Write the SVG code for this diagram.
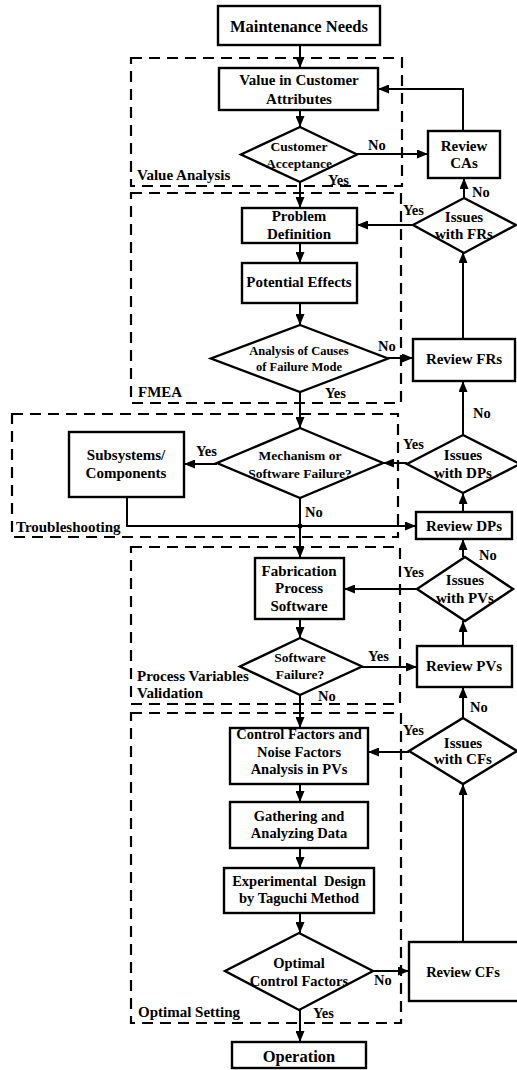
<svg xmlns="http://www.w3.org/2000/svg" width="517" height="1070" viewBox="0 0 517 1070">
<style>
text{font-family:"Liberation Serif","Times New Roman",serif;font-weight:bold;fill:#000;text-anchor:middle;dominant-baseline:central}
.n{fill:#fff;stroke:#000;stroke-width:2.4}
.g{fill:none;stroke:#000;stroke-width:2.2;stroke-dasharray:11 7}
.c{fill:none;stroke:#000;stroke-width:2;marker-end:url(#ah)}
.p{fill:none;stroke:#000;stroke-width:2}
.t15{font-size:15px}
.t14{font-size:14.5px}
.t13{font-size:13.5px}
.t12{font-size:12.5px}
.big{font-size:16.5px}
.lb{font-size:14.5px;text-anchor:start}
.gl{font-size:15px;text-anchor:start}
</style>
<defs>
<marker id="ah" markerUnits="userSpaceOnUse" markerWidth="11" markerHeight="9" refX="11" refY="4.5" orient="auto">
<path d="M0,0 L11,4.5 L0,9 z" fill="#000"/>
</marker>
</defs>
<rect width="517" height="1070" fill="#fff"/>

<g id="groups">
<g id="g-value-analysis"><rect class="g" x="131" y="58" width="271" height="128"/><text class="gl" x="137" y="175">Value Analysis</text></g>
<g id="g-fmea"><rect class="g" x="131" y="193" width="270" height="210"/><text class="gl" x="138" y="392">FMEA</text></g>
<g id="g-troubleshooting"><rect class="g" x="12" y="414" width="386" height="123"/><text class="gl" x="16" y="527">Troubleshooting</text></g>
<g id="g-pvv"><rect class="g" x="131" y="547" width="269" height="157"/><text class="gl" x="137" y="676">Process Variables</text><text class="gl" x="137" y="693">Validation</text></g>
<g id="g-optimal"><rect class="g" x="131" y="713" width="270" height="310"/><text class="gl" x="138" y="1012">Optimal Setting</text></g>
</g>

<g id="connectors">
<path class="c" d="M300,45 V68"/>
<path class="c" d="M300,110 V127"/>
<path class="c" d="M357,154 H428"/>
<path class="c" d="M463,131 V89 H378"/>
<path class="c" d="M300,182 V208"/>
<path class="c" d="M464,198 V178"/>
<path class="c" d="M413,225 H357"/>
<path class="c" d="M300,243 V263"/>
<path class="c" d="M300,303 V325"/>
<path class="c" d="M388,358 H413"/>
<path class="c" d="M463,339 V252"/>
<path class="c" d="M300,392 V428"/>
<path class="c" d="M463,435 V381"/>
<path class="c" d="M407,463 H383"/>
<path class="c" d="M217,464 H184"/>
<path class="c" d="M127,497 V526 H416"/>
<circle cx="300" cy="526" r="2.5" fill="#000"/>
<path class="c" d="M300,498 V558"/>
<path class="c" d="M463,512 V493"/>
<path class="c" d="M463,557 V539"/>
<path class="c" d="M417,589 H344"/>
<path class="c" d="M300,619 V638"/>
<path class="c" d="M362,667 H417"/>
<path class="c" d="M463,646 V621"/>
<path class="c" d="M300,695 V728"/>
<path class="c" d="M463,718 V687"/>
<path class="c" d="M409,752 H368"/>
<path class="c" d="M300,784 V802"/>
<path class="c" d="M300,848 V868"/>
<path class="c" d="M300,913 V933"/>
<path class="c" d="M373,971 H409"/>
<path class="c" d="M463,942 V784"/>
<path class="c" d="M300,1010 V1042"/>
<g id="connector-labels">
<text class="lb" x="368" y="145">No</text>
<text class="lb" x="328" y="180">Yes</text>
<text class="lb" x="472" y="192">No</text>
<text class="lb" x="403" y="210">Yes</text>
<text class="lb" x="378" y="346">No</text>
<text class="lb" x="325" y="393">Yes</text>
<text class="lb" x="473" y="413">No</text>
<text class="lb" x="403" y="444">Yes</text>
<text class="lb" x="196" y="451">Yes</text>
<text class="lb" x="305" y="512">No</text>
<text class="lb" x="479" y="555">No</text>
<text class="lb" x="403" y="572">Yes</text>
<text class="lb" x="368" y="656">Yes</text>
<text class="lb" x="318" y="696">No</text>
<text class="lb" x="470" y="707">No</text>
<text class="lb" x="403" y="730">Yes</text>
<text class="lb" x="374" y="980">No</text>
<text class="lb" x="313" y="1013">Yes</text>
</g>
</g>

<g id="maintenance-needs"><rect class="n" x="218" y="6" width="162" height="39"/><text class="big" x="299" y="26">Maintenance Needs</text></g>
<g id="value-ca"><rect class="n" x="219" y="68" width="159" height="42"/><text class="t15" x="299" y="80">Value in Customer</text><text class="t15" x="299" y="99">Attributes</text></g>
<g id="customer-acceptance"><path class="n" d="M300,127 L357,154.5 L300,182 L241,154.5 Z"/><text class="t13" x="299" y="146">Customer</text><text class="t13" x="299" y="163">Acceptance</text></g>
<g id="review-cas"><rect class="n" x="428" y="131" width="72" height="47"/><text class="t15" x="464" y="146">Review</text><text class="t15" x="464" y="163">CAs</text></g>
<g id="problem-definition"><rect class="n" x="242" y="208" width="115" height="35"/><text class="t15" x="299" y="216">Problem</text><text class="t15" x="299" y="234">Definition</text></g>
<g id="issues-frs"><path class="n" d="M464,198 L516,225 L464,253 L413,225 Z"/><text class="t15" x="464" y="217">Issues</text><text class="t15" x="464" y="234">with FRs</text></g>
<g id="potential-effects"><rect class="n" x="242" y="263" width="115" height="40"/><text class="t15" x="299" y="282">Potential Effects</text></g>
<g id="analysis-causes"><path class="n" d="M300,325 L388,358.5 L300,392 L211,358.5 Z"/><text class="t12" x="299" y="351">Analysis of Causes</text><text class="t12" x="299" y="367">of Failure Mode</text></g>
<g id="review-frs"><rect class="n" x="413" y="339" width="102" height="42"/><text class="t15" x="464" y="359">Review FRs</text></g>
<g id="mechanism"><path class="n" d="M300,428 L383,463 L300,498 L217,463 Z"/><text class="t13" x="300" y="455">Mechanism or</text><text class="t13" x="300" y="473">Software Failure?</text></g>
<g id="subsystems"><rect class="n" x="69" y="432" width="115" height="65"/><text class="t15" x="126" y="455">Subsystems/</text><text class="t15" x="126" y="473">Components</text></g>
<g id="issues-dps"><path class="n" d="M463,435 L520,464 L463,493 L407,464 Z"/><text class="t15" x="463" y="455">Issues</text><text class="t15" x="463" y="473">with DPs</text></g>
<g id="review-dps"><rect class="n" x="416" y="512" width="96" height="27"/><text class="t15" x="464" y="526">Review DPs</text></g>
<g id="fabrication"><rect class="n" x="255" y="558" width="89" height="61"/><text class="t15" x="299" y="571">Fabrication</text><text class="t15" x="299" y="588">Process</text><text class="t15" x="299" y="606">Software</text></g>
<g id="issues-pvs"><path class="n" d="M465,557 L513,589 L465,621 L417,589 Z"/><text class="t15" x="465" y="580">Issues</text><text class="t15" x="465" y="598">with PVs</text></g>
<g id="software-failure"><path class="n" d="M300,638 L362,666.5 L300,695 L240,666.5 Z"/><text class="t13" x="300" y="657">Software</text><text class="t13" x="300" y="674">Failure?</text></g>
<g id="review-pvs"><rect class="n" x="417" y="646" width="95" height="41"/><text class="t15" x="464" y="666">Review PVs</text></g>
<g id="control-factors"><rect class="n" x="230" y="728" width="138" height="56"/><text class="t14" x="299" y="734">Control Factors and</text><text class="t14" x="299" y="752">Noise Factors</text><text class="t14" x="299" y="769">Analysis in PVs</text></g>
<g id="issues-cfs"><path class="n" d="M463,718 L517,751 L463,784 L409,751 Z"/><text class="t15" x="463" y="743">Issues</text><text class="t15" x="463" y="759">with CFs</text></g>
<g id="gathering"><rect class="n" x="230" y="802" width="138" height="46"/><text class="t14" x="299" y="816">Gathering and</text><text class="t14" x="299" y="833">Analyzing Data</text></g>
<g id="experimental"><rect class="n" x="224" y="868" width="150" height="45"/><text class="t14" x="299" y="881" xml:space="preserve">Experimental  Design</text><text class="t14" x="299" y="898">by Taguchi Method</text></g>
<g id="optimal-cf"><path class="n" d="M299,933 L373,971 L299,1010 L225,971 Z"/><text class="t14" x="299" y="963">Optimal</text><text class="t14" x="299" y="981">Control Factors</text></g>
<g id="review-cfs"><rect class="n" x="409" y="942" width="110" height="59"/><text class="t14" x="463" y="972">Review CFs</text></g>
<g id="operation"><rect class="n" x="232" y="1042" width="134" height="26"/><text class="big" x="299" y="1056">Operation</text></g>
</svg>
